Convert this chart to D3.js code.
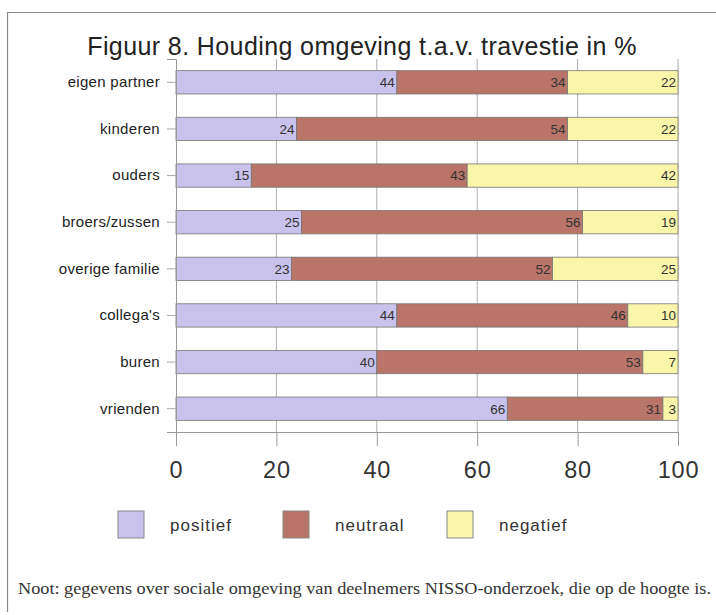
<!DOCTYPE html>
<html lang="en">
<head>
<meta charset="utf-8">
<title>Figuur 8</title>
<script src="https://cdn.jsdelivr.net/npm/d3@7"></script>
<style>
    body { margin: 0; background: #fff; }
    svg { display: block; }
    .sans { font-family: "Liberation Sans", Arial, sans-serif; }
</style>
</head>
<body>
<div id="chart"></div>
<script>
// data
const categories = ["eigen partner", "kinderen", "ouders", "broers/zussen",
    "overige familie", "collega's", "buren", "vrienden"];
const positief = [44, 24, 15, 25, 23, 44, 40, 66];
const neutraal = [34, 54, 43, 56, 52, 46, 53, 31];
const negatief = [22, 22, 42, 19, 25, 10, 7, 3];
const seriesNames = ["positief", "neutraal", "negatief"];
const xTicks = [0, 20, 40, 60, 80, 100];

const colors = ["#c9c2ec", "#b97568", "#f9f5a9"];

const W = 716, H = 615;
const margin = {top: 59, left: 176, right: 38, bottom: 183};
const width = W - margin.left - margin.right,
    height = H - margin.top - margin.bottom;

const svg = d3.select("#chart").append("svg")
    .attr("width", W).attr("height", H);

// frame (only top and left edges show in the scan)
svg.append("path")
    .attr("d", "M7.5,612 V12.5 H716")
    .attr("fill", "none").attr("stroke", "#888").attr("stroke-width", 1.2);

svg.append("text").attr("class", "sans")
    .attr("x", 362).attr("y", 55)
    .attr("text-anchor", "middle")
    .attr("font-size", 25).attr("letter-spacing", 0.4).attr("fill", "#222")
    .text("Figuur 8. Houding omgeving t.a.v. travestie in %");

const g = svg.append("g").attr("transform", `translate(${margin.left},${margin.top})`);

const x = d3.scaleLinear().domain([0, 100]).range([0, width]);
const y = d3.scaleBand().domain(categories).range([0, height]).paddingInner(0.5).paddingOuter(0.25);

// gridlines
g.selectAll(".grid").data(xTicks.slice(1)).join("line")
    .attr("x1", d => x(d)).attr("x2", d => x(d))
    .attr("y1", 0).attr("y2", height)
    .attr("stroke", "#999").attr("stroke-width", 0.8);

const stackData = categories.map((c, i) => ({cat: c, positief: positief[i], neutraal: neutraal[i], negatief: negatief[i]}));
const stacked = d3.stack().keys(seriesNames)(stackData);

const layer = g.selectAll(".layer").data(stacked).join("g")
    .attr("fill", (d, i) => colors[i]);

layer.selectAll("rect").data(d => d).join("rect")
    .attr("x", d => x(d[0])).attr("width", d => x(d[1]) - x(d[0]))
    .attr("y", d => y(d.data.cat)).attr("height", y.bandwidth())
    .attr("stroke", "#777").attr("stroke-width", 0.8);

layer.selectAll("text").data(d => d.map(v => ({v, key: d.key}))).join("text")
    .attr("class", "sans")
    .attr("x", d => x(d.v[1]) - 2)
    .attr("y", d => y(d.v.data.cat) + y.bandwidth() / 2)
    .attr("dy", "0.36em")
    .attr("text-anchor", "end")
    .attr("font-size", 13.5).attr("fill", "#333")
    .text(d => d.v.data[d.key]);

// y axis
const yAxis = g.append("g").call(d3.axisLeft(y).tickSize(9).tickPadding(7));
yAxis.select(".domain").attr("stroke", "#999");
yAxis.selectAll(".tick line").attr("stroke", "#aaa");
yAxis.selectAll("text").attr("class", "sans").attr("font-size", 15)
    .attr("letter-spacing", 0.3).attr("fill", "#222");

// x axis
const xAxis = g.append("g").attr("transform", `translate(0,${height})`)
    .call(d3.axisBottom(x).tickValues(xTicks).tickSize(14).tickPadding(15).tickSizeOuter(0));
xAxis.select(".domain").attr("stroke", "#999");
xAxis.selectAll(".tick line").attr("stroke", "#999");
xAxis.selectAll("text").attr("class", "sans").attr("font-size", 23.5)
    .attr("letter-spacing", 0.8).attr("fill", "#333");

// legend
const legendX = [118, 283, 447];
const leg = svg.selectAll(".leg").data(seriesNames).join("g")
    .attr("transform", (d, i) => `translate(${legendX[i]},511)`);
leg.append("rect").attr("width", 26).attr("height", 27)
    .attr("fill", (d, i) => colors[i]).attr("stroke", "#888");
leg.append("text").attr("class", "sans")
    .attr("x", 52).attr("y", 14).attr("dy", "0.35em")
    .attr("font-size", 17).attr("letter-spacing", 1).attr("fill", "#333")
    .text(d => d);

svg.append("text")
    .attr("x", 18).attr("y", 594)
    .attr("font-family", "'Liberation Serif', 'Times New Roman', serif")
    .attr("font-size", 17).attr("fill", "#333")
    .attr("textLength", 693).attr("lengthAdjust", "spacingAndGlyphs")
    .text("Noot: gegevens over sociale omgeving van deelnemers NISSO-onderzoek, die op de hoogte is.");
</script>
</body>
</html>
